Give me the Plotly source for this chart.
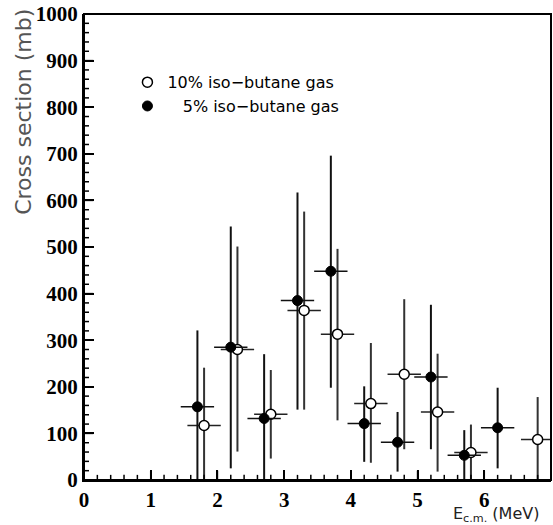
import numpy as np
import plotly.graph_objects as go

# 5% iso-butane (filled)
e5 = [1.70, 2.20, 2.70, 3.20, 3.70, 4.20, 4.70, 5.20, 5.70, 6.20]
s5 = [157, 285, 132, 385, 448, 121, 81, 221, 53, 112]
s5_hi = [321, 544, 270, 617, 696, 201, 146, 376, 107, 198]
s5_lo = [0, 25, 0, 151, 198, 39, 18, 66, 0, 25]

# 10% iso-butane (open)
e10 = [1.80, 2.30, 2.80, 3.30, 3.80, 4.30, 4.80, 5.30, 5.80, 6.80]
s10 = [117, 280, 141, 364, 313, 164, 227, 146, 59, 87]
s10_hi = [241, 501, 236, 576, 496, 294, 388, 271, 119, 178]
s10_lo = [0, 61, 46, 151, 128, 37, 66, 18, 0, 0]

de = 0.25

fig = go.Figure()

fig.add_trace(go.Scatter(
    x=e10, y=s10, mode="markers", name="10% iso\u2212butane gas",
    marker=dict(symbol="circle", size=10, color="white", line=dict(color="black", width=1.5)),
    error_y=dict(type="data", symmetric=False,
                 array=[h - v for h, v in zip(s10_hi, s10)],
                 arrayminus=[v - l for v, l in zip(s10, s10_lo)],
                 color="#333333", thickness=2, width=0),
    error_x=dict(type="constant", value=de, color="#222222", thickness=1.5, width=0),
))

fig.add_trace(go.Scatter(
    x=e5, y=s5, mode="markers", name="\u2007 5% iso\u2212butane gas",
    marker=dict(symbol="circle", size=10, color="black", line=dict(color="black", width=1)),
    error_y=dict(type="data", symmetric=False,
                 array=[h - v for h, v in zip(s5_hi, s5)],
                 arrayminus=[v - l for v, l in zip(s5, s5_lo)],
                 color="#111111", thickness=2, width=0),
    error_x=dict(type="constant", value=de, color="#111111", thickness=1.5, width=0),
))

# inward tick marks built with the library's error bars (major + minor)
xt = np.round(np.arange(0, 7.0001, 0.2), 3)
xt_len = [20 if abs(v - round(v)) < 1e-6 else 11 for v in xt]
yt = np.arange(0, 1001, 20)
yt_len = [0.14 if v % 100 == 0 else 0.075 for v in yt]
tick_style = dict(color="black", thickness=1.5, width=0)
fig.add_trace(go.Scatter(
    x=xt, y=[0] * len(xt), mode="markers", marker=dict(size=1, opacity=0),
    error_y=dict(type="data", symmetric=False, array=xt_len, arrayminus=[0] * len(xt), **tick_style),
    showlegend=False, hoverinfo="skip"))
fig.add_trace(go.Scatter(
    x=[0] * len(yt), y=yt, mode="markers", marker=dict(size=1, opacity=0),
    error_x=dict(type="data", symmetric=False, array=yt_len, arrayminus=[0] * len(yt), **tick_style),
    showlegend=False, hoverinfo="skip"))

tickfont = dict(family="Liberation Serif", size=21, color="black", weight="bold")
sans = "DejaVu Sans"

fig.update_layout(
    width=553, height=525,
    margin=dict(l=84, r=2, t=12, b=45),
    paper_bgcolor="white", plot_bgcolor="white",
    showlegend=True,
    legend=dict(x=0.093, y=0.89, xanchor="left", yanchor="top",
                bgcolor="rgba(0,0,0,0)", borderwidth=0,
                font=dict(family=sans, size=16, color="black"),
                itemwidth=30, tracegroupgap=0),
    xaxis=dict(range=[0, 7], gridcolor="rgba(0,0,0,0)", zerolinecolor="rgba(0,0,0,0)",
               showline=True, linecolor="black", linewidth=2,
               ticks="inside", ticklen=10, tickwidth=2, tickcolor="black",
               dtick=1, tickfont=tickfont),
    yaxis=dict(range=[0, 1000], gridcolor="rgba(0,0,0,0)", zerolinecolor="rgba(0,0,0,0)",
               showline=True, linecolor="black", linewidth=2,
               ticks="inside", ticklen=10, tickwidth=2, tickcolor="black",
               dtick=100, tickfont=tickfont),
    shapes=[dict(type="rect", xref="paper", yref="paper", x0=0, x1=1, y0=0, y1=1,
                 line=dict(color="black", width=2), fillcolor="rgba(0,0,0,0)", layer="above")],
    annotations=[
        dict(text="E<sub>c.m.</sub> (MeV)", xref="paper", yref="paper",
             x=0.978, y=-0.047, xanchor="right", yanchor="top", showarrow=False,
             font=dict(family=sans, size=16, color="#222222")),
        dict(text="Cross section (mb)", xref="paper", yref="paper",
             x=-0.161, y=1.016, xanchor="left", yanchor="top", textangle=-90, showarrow=False,
             font=dict(family=sans, size=22, color="#555555")),
    ],
)

fig.write_html("out.html")
